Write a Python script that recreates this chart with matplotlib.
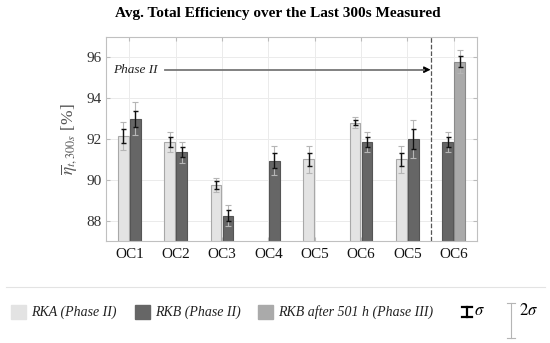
import numpy as np
import matplotlib
matplotlib.use('Agg')
from matplotlib import pyplot as plt, patches
from matplotlib.lines import Line2D

plt.rcParams['font.family'] = ['Liberation Serif', 'DejaVu Serif']
plt.rcParams['mathtext.fontset'] = 'stix'

categories = ['OC1', 'OC2', 'OC3', 'OC4', 'OC5', 'OC6', 'OC5', 'OC6']
# nan = no bar in that slot
rka = [92.15, 91.85, 89.75, np.nan, 91.0, 92.8, 91.0, np.nan]
rka_sd = [0.35, 0.25, 0.18, np.nan, 0.34, 0.13, 0.34, np.nan]
rkb = [93.0, 91.35, 88.25, 90.95, np.nan, 91.85, 92.0, 91.85]
rkb_sd = [0.4, 0.25, 0.26, 0.36, np.nan, 0.25, 0.47, 0.25]
rkb3 = [np.nan] * 7 + [95.8]
rkb3_sd = [np.nan] * 7 + [0.28]

c_rka = '#e3e3e3'
c_rkb = '#666666'
c_rkb3 = '#aaaaaa'
c_2sd = '#b5b5b5'

fig = plt.figure(figsize=(5.5, 3.43), dpi=100)
ax = fig.add_axes([0.193, 0.297, 0.674, 0.595])

x = np.arange(len(categories))
w = 0.23
off = 0.13

def draw(xs, vals, sds, color, edge):
    vals = np.array(vals, dtype=float)
    sds = np.array(sds, dtype=float)
    ok = ~np.isnan(vals)
    ax.bar(xs[ok], vals[ok] - 80, bottom=80, width=w, color=color,
           edgecolor=edge, linewidth=0.8, zorder=2)
    ax.errorbar(xs[ok], vals[ok], yerr=2 * sds[ok], fmt='none',
                ecolor=c_2sd, elinewidth=0.8, capsize=2, capthick=0.8, zorder=3)
    ax.errorbar(xs[ok], vals[ok], yerr=sds[ok], fmt='none',
                ecolor='#111111', elinewidth=1.0, capsize=1.8, capthick=1.0, zorder=4)

# RKA left, RKB right; last group has RKB left, phase III right
rkb_x = np.where(x == 7, x - off, x + off).astype(float)
draw(x - off, rka, rka_sd, c_rka, '#a8a8a8')
draw(rkb_x, rkb, rkb_sd, c_rkb, '#555555')
draw(x + off, rkb3, rkb3_sd, c_rkb3, '#8a8a8a')

ax.set_xlim(-0.5, 7.5)
ax.set_ylim(87, 97)
ax.set_xticks(x)
ax.set_xticklabels(categories, fontsize=11, color='#111111')
ax.set_yticks([88, 90, 92, 94, 96])
ax.tick_params(axis='y', labelsize=11, labelcolor='#333333', direction='in',
               length=3, color='#bbbbbb', right=True)
ax.tick_params(axis='x', direction='in', length=3, color='#bbbbbb', top=True, pad=5)
ax.grid(True, color='#ebebeb', linewidth=0.7, zorder=0)
ax.set_axisbelow(True)
for s in ax.spines.values():
    s.set_color('#c0c0c0')
    s.set_linewidth(0.8)

ax.set_ylabel(r'$\overline{\eta}_{t,300s}$ [%]', fontsize=12.5, color='#555555', labelpad=4)

ax.axvline(6.5, color='#555555', linestyle='--', linewidth=0.9, zorder=1)
ax.text(-0.35, 95.4, 'Phase II', fontsize=9.5, style='italic', color='#222222',
        va='center', ha='left')
ax.plot([0.78, 6.35], [95.4, 95.4], color='#777777', linewidth=1.3, zorder=5)
ax.annotate('', xy=(6.5, 95.4), xytext=(6.3, 95.4),
            arrowprops=dict(arrowstyle='-|>', color='black', lw=0.8,
                            mutation_scale=10, shrinkA=0, shrinkB=0))

fig.text(0.505, 0.962, 'Avg. Total Efficiency over the Last 300s Measured',
         ha='center', va='center', fontsize=11, fontweight='bold')

# legend row
fig.add_artist(Line2D([0.01, 0.99], [1 - 287 / 343] * 2, color='#e3e3e3', lw=0.8))
ly = 1 - 312 / 343
ph = 14 / 343
pw = 15 / 550
items = [(11, c_rka, 'RKA (Phase II)'), (135, c_rkb, 'RKB (Phase II)'),
         (258, c_rkb3, 'RKB after 501 h (Phase III)')]
for px, col, lab in items:
    fig.add_artist(patches.Rectangle((px / 550, ly - ph / 2), pw, ph,
                                     transform=fig.transFigure, color=col))
    fig.text((px + 20) / 550, ly, lab, fontsize=10, style='italic',
             color='#222222', va='center', ha='left')

# sigma symbols
sx = 467 / 550
fig.add_artist(Line2D([sx, sx], [ly - 5 / 343, ly + 5 / 343], color='black', lw=1.6))
for yy in (ly - 5 / 343, ly + 5 / 343):
    fig.add_artist(Line2D([sx - 5 / 550, sx + 5 / 550], [yy, yy], color='black', lw=1.6))
fig.text(474 / 550, ly - 3 / 343, r'$\sigma$', fontsize=12, va='baseline', ha='left')

tx = 511 / 550
y0, y1 = 1 - 338 / 343, 1 - 303 / 343
fig.add_artist(Line2D([tx, tx], [y0, y1], color=c_2sd, lw=0.8))
for yy in (y0, y1):
    fig.add_artist(Line2D([tx - 4 / 550, tx + 4 / 550], [yy, yy], color=c_2sd, lw=0.8))
fig.text(519 / 550, ly - 3 / 343, r'$2\sigma$', fontsize=12, va='baseline', ha='left')

plt.savefig('out.png', dpi=100)
